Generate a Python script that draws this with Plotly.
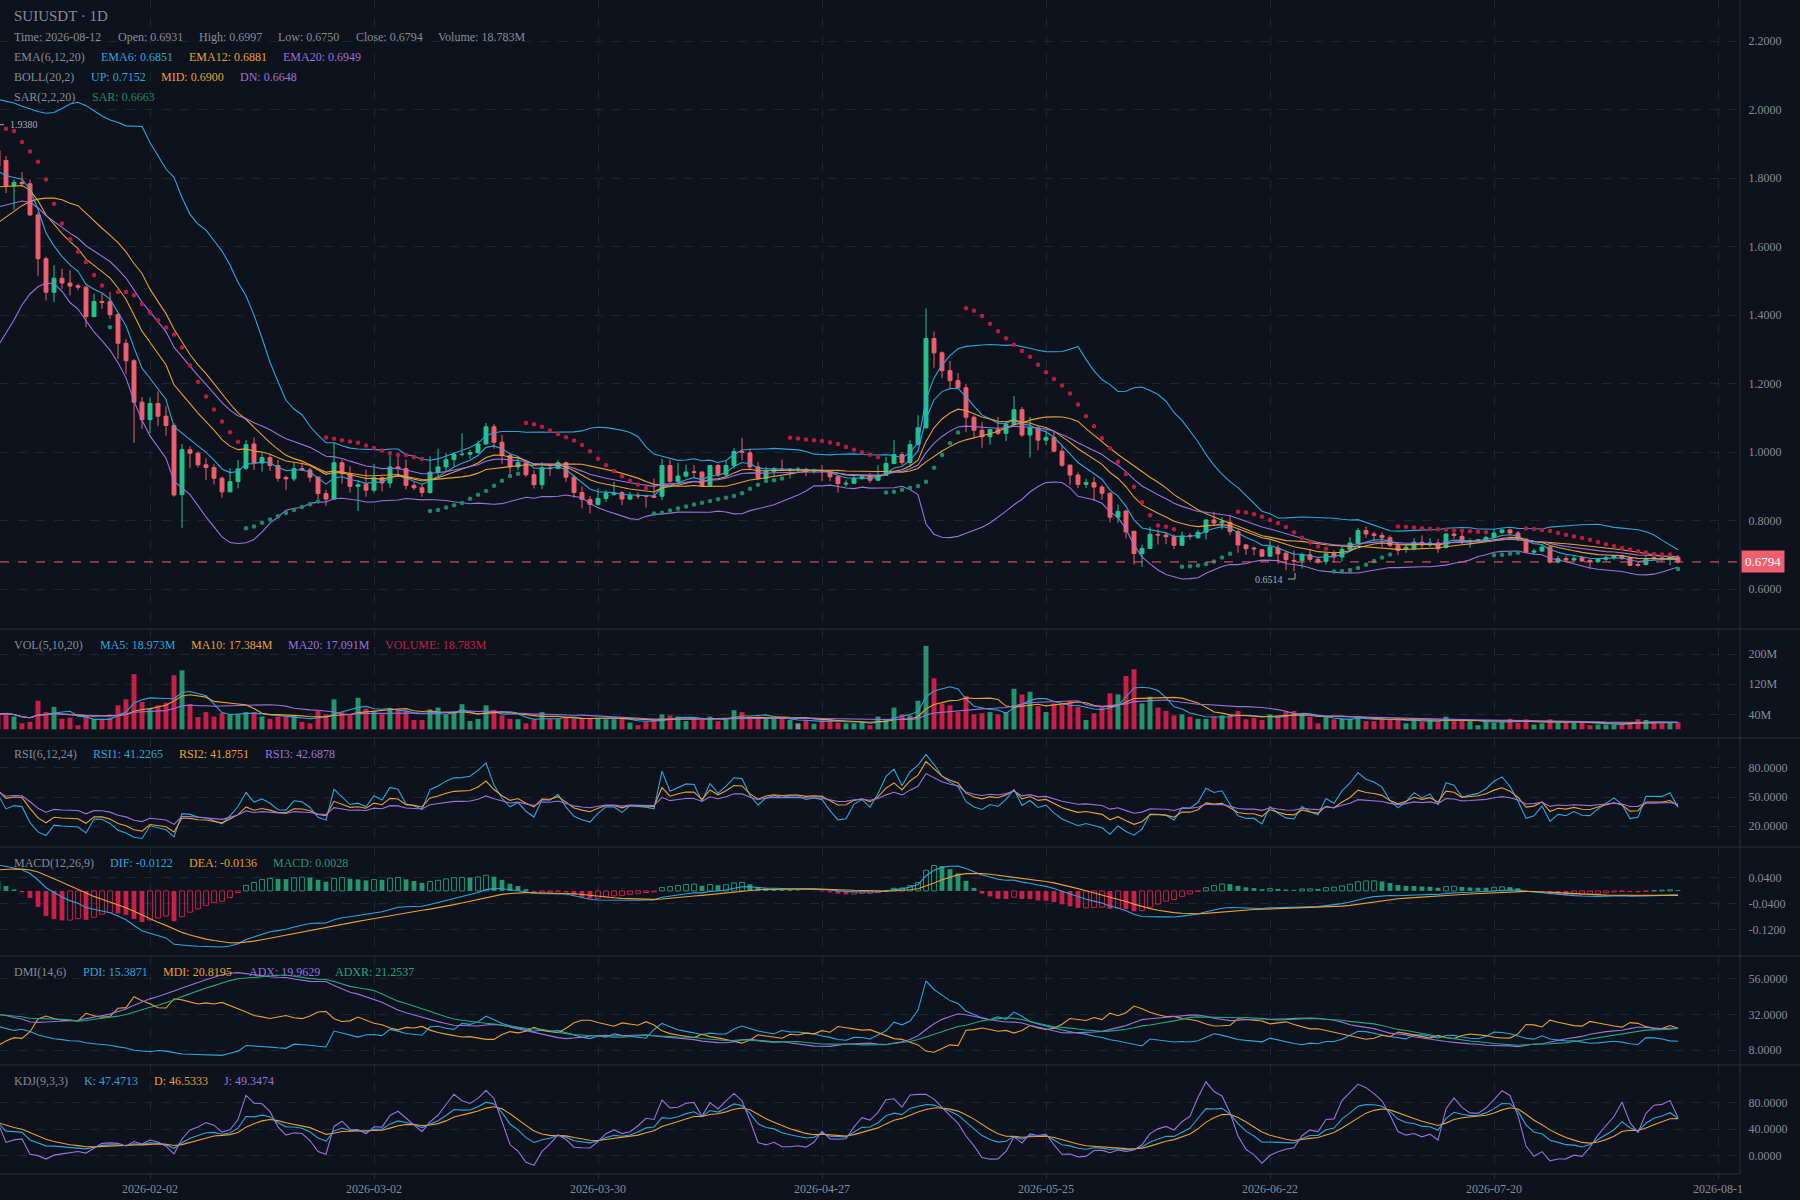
import numpy as np
import pandas as pd
import plotly.graph_objects as go
from plotly.subplots import make_subplots

# ---------------- data ----------------
START_DATE = "2026-01-14"
opens = [1.881,1.852,1.778,1.788,1.784,1.693,1.565,1.467,1.508,1.494,1.486,1.482,1.396,1.440,1.440,1.402,1.318,1.267,1.146,1.095,
         1.142,1.105,1.078,0.876,1.007,0.997,0.963,0.955,0.924,0.884,0.914,0.953,1.024,0.968,0.984,0.961,0.926,0.922,0.952,0.948,
         0.927,0.879,0.863,0.969,0.937,0.900,0.905,0.889,0.925,0.910,0.957,0.952,0.903,0.896,0.882,0.942,0.957,0.978,0.993,0.994,
         0.999,1.024,1.074,1.029,0.990,0.957,0.969,0.934,0.905,0.954,0.952,0.969,0.927,0.882,0.862,0.847,0.865,0.877,0.882,0.863,
         0.874,0.872,0.872,0.871,0.961,0.915,0.930,0.943,0.942,0.903,0.961,0.934,0.961,1.002,0.998,0.957,0.923,0.944,0.950,0.947,
         0.950,0.950,0.944,0.946,0.940,0.928,0.907,0.909,0.923,0.932,0.918,0.932,0.967,0.993,0.970,1.022,1.071,1.332,1.290,1.238,
         1.209,1.188,1.102,1.064,1.045,1.066,1.055,1.081,1.124,1.050,1.071,1.035,1.043,1.003,0.962,0.933,0.906,0.911,0.898,0.880,
         0.810,0.828,0.769,0.704,0.719,0.760,0.758,0.753,0.728,0.756,0.750,0.766,0.802,0.793,0.795,0.768,0.729,0.720,0.715,0.696,
         0.720,0.705,0.684,0.684,0.700,0.687,0.681,0.705,0.694,0.716,0.735,0.771,0.761,0.757,0.750,0.728,0.716,0.718,0.737,0.729,
         0.735,0.722,0.761,0.754,0.738,0.741,0.741,0.751,0.765,0.773,0.764,0.746,0.708,0.711,0.723,0.679,0.689,0.685,0.692,0.684,
         0.680,0.687,0.692,0.697,0.692,0.672,0.672,0.692,0.691,0.689,0.6931]
highs = [1.938,1.865,1.796,1.818,1.796,1.700,1.571,1.546,1.536,1.531,1.492,1.486,1.463,1.463,1.468,1.405,1.330,1.272,1.161,1.159,
         1.178,1.134,1.085,1.024,1.017,1.002,0.982,0.965,0.929,0.953,0.977,1.036,1.043,0.997,0.992,0.977,0.932,0.970,0.969,0.955,
         0.930,0.890,1.029,0.978,0.959,0.918,0.949,0.966,0.928,0.992,0.986,0.978,0.915,0.908,0.988,1.010,0.998,1.000,1.055,1.007,
         1.034,1.085,1.082,1.050,0.995,0.986,0.976,0.947,0.971,0.966,0.976,0.973,0.934,0.900,0.872,0.894,0.889,0.913,0.886,0.884,
         0.882,0.873,0.923,0.981,0.978,0.969,0.963,0.963,0.944,0.963,0.966,0.976,1.012,1.042,1.010,0.971,0.957,0.957,0.978,0.954,
         0.957,0.954,0.952,0.963,0.942,0.932,0.918,0.932,0.934,0.940,0.962,0.987,1.035,1.000,1.035,1.108,1.420,1.352,1.294,1.267,
         1.231,1.200,1.108,1.088,1.067,1.103,1.090,1.164,1.132,1.103,1.076,1.064,1.059,1.019,0.964,0.941,0.922,0.927,0.904,0.883,
         0.847,0.832,0.770,0.730,0.782,0.775,0.765,0.760,0.768,0.764,0.774,0.802,0.826,0.810,0.817,0.774,0.732,0.724,0.718,0.742,
         0.729,0.713,0.713,0.706,0.718,0.694,0.708,0.713,0.729,0.752,0.778,0.783,0.768,0.766,0.757,0.732,0.729,0.749,0.757,0.749,
         0.747,0.764,0.768,0.764,0.748,0.746,0.756,0.775,0.777,0.777,0.770,0.748,0.718,0.731,0.728,0.697,0.697,0.700,0.697,0.689,
         0.692,0.697,0.700,0.700,0.697,0.679,0.699,0.701,0.697,0.697,0.6997]
lows = [1.820,1.757,1.708,1.775,1.690,1.514,1.443,1.438,1.477,1.458,1.473,1.365,1.394,1.419,1.389,1.272,1.229,1.027,1.068,1.056,
        1.076,1.048,0.870,0.778,0.953,0.955,0.919,0.906,0.867,0.884,0.894,0.948,0.948,0.943,0.945,0.914,0.889,0.915,0.945,0.913,
        0.863,0.843,0.860,0.908,0.882,0.828,0.870,0.882,0.885,0.896,0.928,0.891,0.889,0.870,0.879,0.930,0.942,0.959,0.988,0.981,
        0.995,1.021,1.010,0.966,0.937,0.947,0.928,0.894,0.892,0.930,0.950,0.913,0.867,0.836,0.821,0.847,0.855,0.872,0.845,0.860,
        0.863,0.838,0.866,0.860,0.908,0.903,0.925,0.925,0.901,0.899,0.928,0.925,0.952,0.976,0.952,0.918,0.923,0.928,0.946,0.923,
        0.942,0.930,0.937,0.915,0.915,0.882,0.899,0.908,0.918,0.910,0.916,0.932,0.965,0.962,0.958,1.020,1.069,1.246,1.216,1.183,
        1.185,1.059,1.040,1.013,1.022,1.050,1.032,1.079,1.045,0.984,1.006,1.020,0.999,0.957,0.904,0.895,0.895,0.857,0.861,0.795,
        0.793,0.748,0.672,0.665,0.717,0.730,0.731,0.717,0.728,0.745,0.747,0.745,0.784,0.774,0.757,0.706,0.700,0.699,0.694,0.694,
        0.674,0.655,0.6514,0.660,0.679,0.674,0.672,0.679,0.681,0.713,0.733,0.750,0.742,0.723,0.723,0.699,0.706,0.713,0.720,0.723,
        0.706,0.718,0.747,0.731,0.721,0.736,0.738,0.746,0.761,0.758,0.741,0.704,0.701,0.708,0.675,0.675,0.679,0.682,0.679,0.659,
        0.677,0.681,0.686,0.685,0.667,0.665,0.669,0.685,0.682,0.669,0.6750]
closes = [1.835,1.778,1.788,1.784,1.693,1.565,1.467,1.508,1.494,1.485,1.482,1.396,1.440,1.437,1.402,1.318,1.267,1.146,1.095,1.142,
          1.105,1.078,0.875,1.007,0.997,0.963,0.955,0.924,0.884,0.914,0.951,1.022,0.968,0.984,0.961,0.924,0.922,0.952,0.948,0.927,
          0.879,0.863,0.969,0.937,0.900,0.905,0.889,0.925,0.910,0.957,0.952,0.903,0.896,0.882,0.942,0.957,0.978,0.993,0.994,0.999,
          1.024,1.074,1.029,0.990,0.957,0.969,0.934,0.905,0.954,0.952,0.969,0.927,0.882,0.862,0.847,0.865,0.879,0.879,0.863,0.874,
          0.872,0.871,0.868,0.961,0.915,0.930,0.942,0.941,0.903,0.961,0.934,0.961,1.002,1.000,0.957,0.923,0.944,0.951,0.947,0.950,
          0.950,0.944,0.946,0.944,0.928,0.908,0.909,0.923,0.928,0.918,0.933,0.967,0.993,0.970,1.022,1.071,1.332,1.290,1.238,1.209,
          1.188,1.102,1.064,1.045,1.066,1.055,1.081,1.124,1.050,1.071,1.035,1.043,1.003,0.962,0.933,0.906,0.911,0.898,0.880,0.810,
          0.827,0.767,0.704,0.719,0.760,0.758,0.753,0.728,0.755,0.754,0.766,0.802,0.793,0.797,0.768,0.729,0.718,0.718,0.696,0.723,
          0.703,0.686,0.682,0.700,0.687,0.679,0.703,0.694,0.716,0.735,0.771,0.761,0.757,0.750,0.728,0.713,0.722,0.737,0.729,0.735,
          0.718,0.761,0.757,0.738,0.741,0.744,0.751,0.764,0.773,0.764,0.746,0.708,0.711,0.723,0.679,0.689,0.685,0.690,0.682,0.681,
          0.687,0.692,0.697,0.690,0.669,0.670,0.689,0.689,0.689,0.692,0.6794]
volumes_m = [40,44,34,16,20,76,46,60,28,31,11,36,27,28,31,64,80,147,73,55,
             64,71,144,157,67,33,46,34,44,40,40,46,46,34,28,34,34,37,20,16,
             49,40,80,46,40,84,55,49,40,53,55,49,25,25,53,58,40,44,67,22,
             28,64,52,37,28,27,16,25,46,28,27,34,28,31,28,31,27,27,31,18,
             11,20,27,40,37,34,22,27,25,34,22,25,51,46,34,34,28,28,28,25,
             16,25,15,25,28,18,16,16,20,11,34,28,58,40,37,76,222,136,69,64,
             46,89,40,43,46,40,46,108,93,100,62,46,69,67,76,60,25,43,60,96,
             93,142,160,69,87,58,49,37,40,34,28,28,34,37,40,49,27,31,25,40,
             37,46,49,40,34,16,34,27,28,28,34,22,22,31,27,25,16,25,20,25,
             22,34,22,28,22,11,20,18,20,28,18,27,13,16,27,18,20,18,20,11,
             13,13,13,16,16,27,25,18,16,18,18.783]
# Bollinger values for the first 19 bars (window reaches before the visible range)
boll_up_head = [2.030,2.026,2.020,2.010,2.002,1.995,1.990,1.992,2.004,2.017,2.022,2.012,1.997,1.982,1.970,1.963,1.953,1.953,1.951]
boll_mid_head = [1.670,1.686,1.703,1.720,1.732,1.739,1.742,1.742,1.737,1.727,1.720,1.698,1.674,1.654,1.634,1.612,1.585,1.551,1.522]
# indicator starting states read at the left edge
ema_seed = {6: 1.82, 12: 1.775, 20: 1.716, 26: 1.695}
dea_seed = 0.065
sar_start = 1.958
sar_af_start = 0.10
rsi_seed = {6: 52, 12: 57, 24: 55}
dmi_seed = {"pdi": 24, "mdi": 11, "adx": 32}

x_tick_dates = ["2026-02-02", "2026-03-02", "2026-03-30", "2026-04-27", "2026-05-25", "2026-06-22", "2026-07-20", "2026-08-17"]
x_tick_text = ["2026-02-02", "2026-03-02", "2026-03-30", "2026-04-27", "2026-05-25", "2026-06-22", "2026-07-20", "2026-08-1"]
price_ticks = [0.6, 0.8, 1.0, 1.2, 1.4, 1.6, 1.8, 2.0, 2.2]
vol_ticks = [40, 120, 200]
rsi_ticks = [20, 50, 80]
macd_ticks = [-0.12, -0.04, 0.04]
dmi_ticks = [8, 32, 56]
kdj_ticks = [0, 40, 80]

# ---------------- indicators ----------------
O = np.array(opens); H = np.array(highs); L = np.array(lows); C = np.array(closes); V = np.array(volumes_m)
N = len(C)
dates = pd.date_range(START_DATE, periods=N, freq="D")

def ema(x, n, seed=None):
    a = 2.0 / (n + 1)
    out = np.zeros(len(x))
    out[0] = x[0] if seed is None else seed
    for i in range(1, len(x)):
        out[i] = a * x[i] + (1 - a) * out[i - 1]
    return out

def sma_cn(x, n, m=1, seed=None):
    out = np.zeros(len(x))
    out[0] = x[0] if seed is None else seed
    for i in range(1, len(x)):
        out[i] = (m * x[i] + (n - m) * out[i - 1]) / n
    return out

ema6 = ema(C, 6, ema_seed[6]); ema12 = ema(C, 12, ema_seed[12]); ema20 = ema(C, 20, ema_seed[20])
ema26 = ema(C, 26, ema_seed[26])

cs = pd.Series(C)
mid = cs.rolling(20).mean().values
sd = cs.rolling(20).std(ddof=0).values
up = mid + 2 * sd
dn = mid - 2 * sd
nh = len(boll_up_head)
mid[:nh] = boll_mid_head
up[:nh] = boll_up_head
dn[:nh] = 2 * np.array(boll_mid_head) - np.array(boll_up_head)

# SAR(2,2,20)
sar = np.zeros(N); trend = np.zeros(N)
s = sar_start; af = sar_af_start; tr = -1; ep = L[0]
sar[0] = s; trend[0] = tr
for i in range(1, N):
    s = s + af * (ep - s)
    if tr == 1:
        s = min(s, L[i - 1], L[i - 2] if i >= 2 else L[i - 1])
        if L[i] < s:
            tr = -1; s = ep; ep = L[i]; af = 0.02
        elif H[i] > ep:
            ep = H[i]; af = min(af + 0.02, 0.2)
    else:
        s = max(s, H[i - 1], H[i - 2] if i >= 2 else H[i - 1])
        if H[i] > s:
            tr = 1; s = ep; ep = H[i]; af = 0.02
        elif L[i] < ep:
            ep = L[i]; af = min(af + 0.02, 0.2)
    sar[i] = s; trend[i] = tr

vs = pd.Series(V)
vma5 = vs.rolling(5, min_periods=1).mean().values
vma10 = vs.rolling(10, min_periods=1).mean().values
vma20 = vs.rolling(20, min_periods=1).mean().values

diff = np.diff(C, prepend=C[0])
gain = np.maximum(diff, 0); absd = np.abs(diff)
def rsi(n):
    a0 = 0.03
    g = sma_cn(gain, n, 1, rsi_seed[n] / 100.0 * a0); a = sma_cn(absd, n, 1, a0)
    return np.where(a > 0, g / a * 100, 50)
rsi1 = rsi(6); rsi2 = rsi(12); rsi3 = rsi(24)

dif = ema12 - ema26
dea = ema(dif, 9, dea_seed)
macd = 2 * (dif - dea)

Cp = np.concatenate([[C[0]], C[:-1]]); Hp = np.concatenate([[H[0]], H[:-1]]); Lp = np.concatenate([[L[0]], L[:-1]])
TR = np.maximum.reduce([H - L, np.abs(H - Cp), np.abs(L - Cp)])
HD = H - Hp; LD = Lp - L
DMP = np.where((HD > 0) & (HD > LD), HD, 0.0)
DMM = np.where((LD > 0) & (LD > HD), LD, 0.0)
atr = sma_cn(TR, 14, 1, TR[0])
pdm = sma_cn(DMP, 14, 1, dmi_seed["pdi"] / 100.0 * TR[0])
mdm = sma_cn(DMM, 14, 1, dmi_seed["mdi"] / 100.0 * TR[0])
pdi = pdm / atr * 100
mdi = mdm / atr * 100
dx = np.where(pdi + mdi > 0, np.abs(mdi - pdi) / (pdi + mdi) * 100, 0)
adx = sma_cn(dx, 14, 1, dmi_seed["adx"])
adx_ref = np.concatenate([np.full(6, adx[0]), adx[:-6]])
adxr = (adx + adx_ref) / 2

llv = pd.Series(L).rolling(9, min_periods=1).min().values
hhv = pd.Series(H).rolling(9, min_periods=1).max().values
rsv = np.where(hhv > llv, (C - llv) / (hhv - llv) * 100, 50)
kk = sma_cn(rsv, 3, 1, 50); dd = sma_cn(kk, 3, 1, 50); jj = 3 * kk - 2 * dd

# ---------------- styling ----------------
BG = "#0d121d"
GRID = "#1f2633"
SEP = "#2a313e"
TXT = "#858c98"
BLUE = "#2ba6dc"; ORANGE = "#e6a035"; PURPLE = "#9a72dc"
UPC = "#22c38e"; DNC = "#ef5f6f"
VUP = "#25946d"; VDN = "#c71f47"
FONT = "Liberation Serif"

W, Hh = 1800, 1200
PW, PH = 1740, 1174
def px(x): return x / PW
def py(y): return (PH - y) / PH

bounds = [0, 629, 738, 847, 956, 1065, 1174]
fig = make_subplots(rows=6, cols=1, shared_xaxes=True, vertical_spacing=0)

# price
fig.add_trace(go.Candlestick(x=dates, open=O, high=H, low=L, close=C,
                             increasing=dict(line=dict(color=UPC, width=1), fillcolor=UPC),
                             decreasing=dict(line=dict(color=DNC, width=1), fillcolor=DNC),
                             whiskerwidth=0, showlegend=False, hoverinfo="skip"), row=1, col=1)
for arr, col in [(up, BLUE), (mid, ORANGE), (dn, PURPLE), (ema6, BLUE), (ema12, ORANGE), (ema20, PURPLE)]:
    fig.add_trace(go.Scatter(x=dates, y=arr, mode="lines", line=dict(color=col, width=1.1),
                             showlegend=False, hoverinfo="skip"), row=1, col=1)
sar_cols = np.where(trend > 0, "#1d8a67", "#b81d40")
fig.add_trace(go.Scatter(x=dates, y=sar, mode="markers", marker=dict(color=list(sar_cols), size=4.5),
                         showlegend=False, hoverinfo="skip"), row=1, col=1)

# volume
vcols = [VUP if c > o else (VDN if c < o else "#8a8f98") for o, c in zip(O, C)]
fig.add_trace(go.Bar(x=dates, y=V, marker=dict(color=vcols, line=dict(width=0)), width=0.62 * 86400000,
                     showlegend=False, hoverinfo="skip"), row=2, col=1)
for arr, col in [(vma5, BLUE), (vma10, ORANGE), (vma20, PURPLE)]:
    fig.add_trace(go.Scatter(x=dates, y=arr, mode="lines", line=dict(color=col, width=1.1),
                             showlegend=False, hoverinfo="skip"), row=2, col=1)

# RSI
for arr, col in [(rsi1, BLUE), (rsi2, ORANGE), (rsi3, PURPLE)]:
    fig.add_trace(go.Scatter(x=dates, y=arr, mode="lines", line=dict(color=col, width=1.1),
                             showlegend=False, hoverinfo="skip"), row=3, col=1)

# MACD
prev = np.concatenate([[macd[0]], macd[:-1]])
rising = macd > prev
mcol = np.where(macd >= 0, "#22966f", "#c8204a")
fill_idx = ~rising
fig.add_trace(go.Bar(x=dates[fill_idx], y=macd[fill_idx], marker=dict(color=list(mcol[fill_idx]), line=dict(width=0)),
                     width=0.6 * 86400000, showlegend=False, hoverinfo="skip"), row=4, col=1)
fig.add_trace(go.Bar(x=dates[rising], y=macd[rising],
                     marker=dict(color="rgba(0,0,0,0)", line=dict(color=list(mcol[rising]), width=1)),
                     width=0.6 * 86400000, showlegend=False, hoverinfo="skip"), row=4, col=1)
for arr, col in [(dif, BLUE), (dea, ORANGE)]:
    fig.add_trace(go.Scatter(x=dates, y=arr, mode="lines", line=dict(color=col, width=1.1),
                             showlegend=False, hoverinfo="skip"), row=4, col=1)

# DMI
for arr, col in [(pdi, BLUE), (mdi, ORANGE), (adx, PURPLE), (adxr, "#22a77b")]:
    fig.add_trace(go.Scatter(x=dates, y=arr, mode="lines", line=dict(color=col, width=1.1),
                             showlegend=False, hoverinfo="skip"), row=5, col=1)

# KDJ
for arr, col in [(kk, BLUE), (dd, ORANGE), (jj, PURPLE)]:
    fig.add_trace(go.Scatter(x=dates, y=arr, mode="lines", line=dict(color=col, width=1.1),
                             showlegend=False, hoverinfo="skip"), row=6, col=1)

# ---------------- axes ----------------
x0 = pd.Timestamp(START_DATE) + pd.Timedelta(hours=6)
x1 = pd.Timestamp(START_DATE) + pd.Timedelta(days=217, hours=18)
for r in range(1, 7):
    fig.update_xaxes(row=r, col=1, type="date", range=[x0, x1], showgrid=True, gridcolor=GRID, griddash="dash",
                     gridwidth=1, zeroline=False, showline=False, tickvals=x_tick_dates, ticktext=x_tick_text,
                     showticklabels=(r == 6), ticks="outside" if r == 6 else "", ticklen=4, tickcolor=SEP,
                     tickfont=dict(family=FONT, size=12, color=TXT), rangeslider=dict(visible=False), fixedrange=True)

def yfmt(row, rng, vals, texts):
    lo = (PH - bounds[row]) / PH
    hi = (PH - bounds[row - 1]) / PH
    fig.update_yaxes(row=row, col=1, domain=[lo, hi], range=rng, side="right", tickvals=vals, ticktext=texts,
                     showgrid=True, gridcolor=GRID, griddash="dash", zeroline=False, showline=False,
                     ticks="outside", ticklen=5, tickcolor="rgba(0,0,0,0)",
                     tickfont=dict(family=FONT, size=12, color=TXT), fixedrange=True)

yfmt(1, [0.4835, 2.3206], price_ticks, ["%.4f" % v for v in price_ticks])
yfmt(2, [-23, 267], vol_ticks, ["%dM" % v for v in vol_ticks])
yfmt(3, [-1.7, 111], rsi_ticks, ["%.4f" % v for v in rsi_ticks])
yfmt(4, [-0.20, 0.135], macd_ticks, ["%.4f" % v for v in macd_ticks])
yfmt(5, [-2.1, 71.5], dmi_ticks, ["%.4f" % v for v in dmi_ticks])
yfmt(6, [-27.5, 137], kdj_ticks, ["%.4f" % v for v in kdj_ticks])

# ---------------- shapes ----------------
shapes = []
for yb in bounds[1:6]:
    shapes.append(dict(type="line", xref="paper", yref="paper", x0=0, x1=W / PW, y0=py(yb), y1=py(yb),
                       line=dict(color=SEP, width=1)))
shapes.append(dict(type="line", xref="paper", yref="paper", x0=0, x1=1, y0=0, y1=0, line=dict(color=SEP, width=1)))
shapes.append(dict(type="line", xref="paper", yref="paper", x0=1, x1=1, y0=0, y1=1, line=dict(color=SEP, width=1)))
# last price line
shapes.append(dict(type="line", xref="paper", yref="y", x0=0, x1=1, y0=C[-1], y1=C[-1],
                   line=dict(color=DNC, width=1, dash="dash")))
# high / low markers
shapes.append(dict(type="line", xref="paper", yref="paper", x0=px(0), x1=px(4), y0=py(124.7), y1=py(124.7),
                   line=dict(color="#a9afb9", width=1)))
ilow = int(np.argmin(L))
lx = -2 + 8 * ilow
shapes.append(dict(type="line", xref="paper", yref="paper", x0=px(lx - 6), x1=px(lx + 1), y0=py(579), y1=py(579),
                   line=dict(color="#a9afb9", width=1)))
shapes.append(dict(type="line", xref="paper", yref="paper", x0=px(lx + 1), x1=px(lx + 1), y0=py(579), y1=py(573),
                   line=dict(color="#a9afb9", width=1)))

# ---------------- annotations ----------------
ann = []
def txt(x, y, s, color=TXT, size=12):
    ann.append(dict(text=s, x=px(x), y=py(y), xref="paper", yref="paper", xanchor="left", yanchor="middle",
                    showarrow=False, font=dict(family=FONT, size=size, color=color)))

txt(12, 16, "SUIUSDT · 1D", TXT, 15)
for x, s in [(12, "Time: 2026-08-12"), (115.6, "Open: 0.6931"), (196.7, "High: 0.6997"), (276, "Low: 0.6750"),
             (353.6, "Close: 0.6794"), (436, "Volume: 18.783M")]:
    txt(x, 36.7, s)
txt(12, 56.7, "EMA(6,12,20)"); txt(98.7, 56.7, "EMA6: 0.6851", BLUE); txt(186.8, 56.7, "EMA12: 0.6881", ORANGE); txt(281, 56.7, "EMA20: 0.6949", PURPLE)
txt(12, 76.7, "BOLL(20,2)"); txt(88.8, 76.7, "UP: 0.7152", BLUE); txt(159.2, 76.7, "MID: 0.6900", ORANGE); txt(238, 76.7, "DN: 0.6648", PURPLE)
txt(12, 96.7, "SAR(2,2,20)"); txt(89.6, 96.7, "SAR: 0.6663", "#1f8c69")
txt(12, 645, "VOL(5,10,20)"); txt(97.7, 645, "MA5: 18.973M", BLUE); txt(188.7, 645, "MA10: 17.384M", ORANGE)
txt(285.8, 645, "MA20: 17.091M", PURPLE); txt(383, 645, "VOLUME: 18.783M", "#c3203f")
txt(12, 754, "RSI(6,12,24)"); txt(91, 754, "RSI1: 41.2265", BLUE); txt(176.7, 754, "RSI2: 41.8751", ORANGE); txt(263.3, 754, "RSI3: 42.6878", PURPLE)
txt(12, 863, "MACD(12,26,9)"); txt(108.3, 863, "DIF: -0.0122", BLUE); txt(187.3, 863, "DEA: -0.0136", ORANGE); txt(271, 863, "MACD: 0.0028", "#22966f")
txt(12, 971.7, "DMI(14,6)"); txt(81, 971.7, "PDI: 15.3871", BLUE); txt(161.3, 971.7, "MDI: 20.8195", ORANGE)
txt(246.7, 971.7, "ADX: 19.9629", PURPLE); txt(333.3, 971.7, "ADXR: 21.2537", "#22a77b")
txt(12, 1080.7, "KDJ(9,3,3)"); txt(82.3, 1080.7, "K: 47.4713", BLUE); txt(152.3, 1080.7, "D: 46.5333", ORANGE); txt(221.7, 1080.7, "J: 49.3474", PURPLE)

txt(8, 124.7, "%.4f" % H[0], "#a9afb9", 10)
ann.append(dict(text="%.4f" % L[ilow], x=px(lx - 9), y=py(579), xref="paper", yref="paper", xanchor="right",
                yanchor="middle", showarrow=False, font=dict(family=FONT, size=10, color="#a9afb9")))
ann.append(dict(text="%.4f" % C[-1], x=px(1741), y=C[-1], xref="paper", yref="y", xanchor="left", yanchor="middle",
                showarrow=False, bgcolor=DNC, borderpad=3, font=dict(family=FONT, size=13, color="#ffffff")))

fig.update_layout(width=W, height=Hh, margin=dict(l=0, r=W - PW, t=0, b=Hh - PH),
                  paper_bgcolor=BG, plot_bgcolor=BG, showlegend=False, barmode="overlay",
                  shapes=shapes, annotations=ann, font=dict(family=FONT, color=TXT), hovermode=False)

fig.write_html("out.html", config={"displayModeBar": False, "staticPlot": True},
               post_script="document.body.style.margin='0px';document.body.style.background='%s';" % BG)
